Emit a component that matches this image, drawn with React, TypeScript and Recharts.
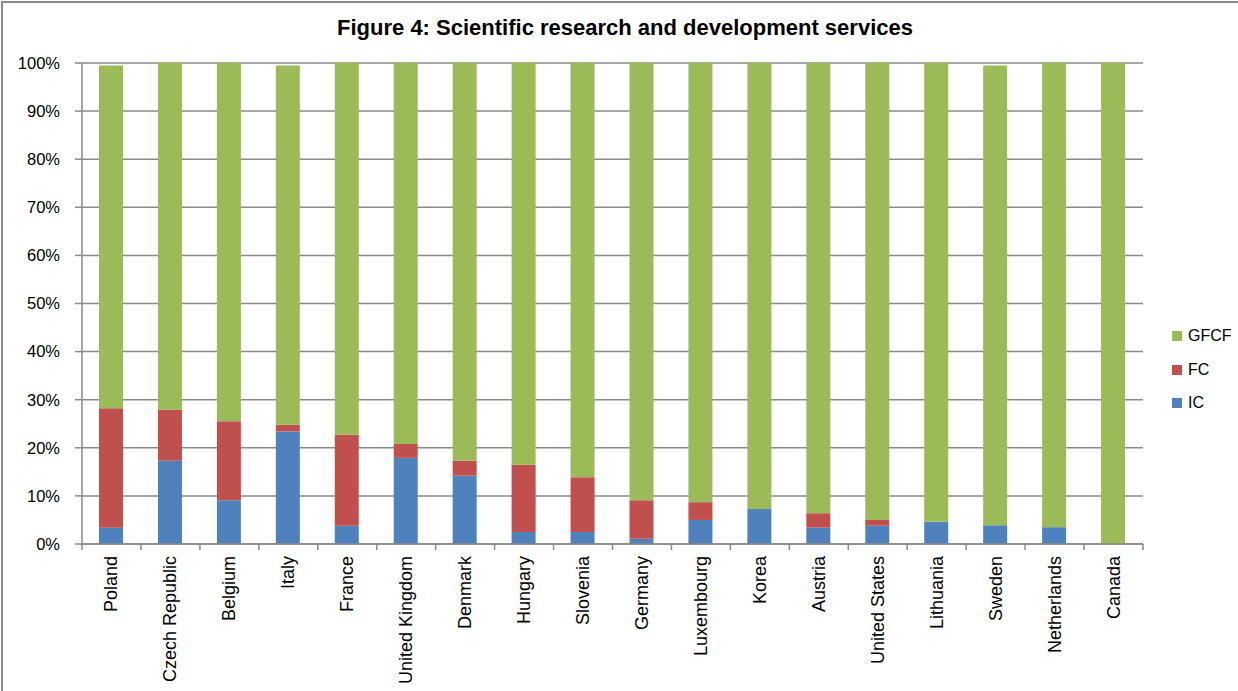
import React from "react";
import { BarChart, Bar, XAxis, YAxis, CartesianGrid } from "recharts";

const countries = [
  "Poland",
  "Czech Republic",
  "Belgium",
  "Italy",
  "France",
  "United Kingdom",
  "Denmark",
  "Hungary",
  "Slovenia",
  "Germany",
  "Luxembourg",
  "Korea",
  "Austria",
  "United States",
  "Lithuania",
  "Sweden",
  "Netherlands",
  "Canada",
];

const icValues = [3.4, 17.3, 9.1, 23.4, 3.8, 17.9, 14.2, 2.5, 2.5, 1.1, 5.0, 7.3, 3.4, 3.8, 4.6, 3.9, 3.5, 0];
const fcValues = [24.8, 10.6, 16.4, 1.4, 18.9, 2.9, 3.1, 14.0, 11.4, 8.0, 3.7, 0, 3.0, 1.2, 0, 0, 0, 0];
const gfcfValues = [71.3, 72.1, 74.5, 74.7, 77.3, 79.2, 82.7, 83.5, 86.1, 90.9, 91.3, 92.7, 93.6, 95.0, 95.4, 95.6, 96.5, 100];

const yTicks = [0, 10, 20, 30, 40, 50, 60, 70, 80, 90, 100];

const series = [
  { key: "IC", color: "#4F81BD" },
  { key: "FC", color: "#C0504D" },
  { key: "GFCF", color: "#9BBB59" },
];

const data = countries.map((name, i) => ({
  name,
  IC: icValues[i],
  FC: fcValues[i],
  GFCF: gfcfValues[i],
}));

const W = 1238;
const H = 691;
const margin = { top: 63, right: 95, bottom: 7, left: 8 };
const yAxisWidth = 74;
const plotWidth = W - margin.left - margin.right - yAxisWidth;
const step = plotWidth / countries.length;
const gridColor = "#8a8a8a";
const font = "'Liberation Sans', Arial, sans-serif";

const XTick = (props: any) => {
  const { x, y, payload, index } = props;
  return (
    <g transform={`translate(${x},${y})`}>
      {index === 0 && (
        <line x1={-step / 2} y1={0} x2={-step / 2} y2={6} stroke={gridColor} strokeWidth={1.5} />
      )}
      <line x1={step / 2} y1={0} x2={step / 2} y2={6} stroke={gridColor} strokeWidth={1.5} />
      <text
        x={0}
        y={0}
        dx={-12}
        dy={6}
        textAnchor="end"
        transform="rotate(-90)"
        fontSize={18}
        fontFamily={font}
        fill="#000"
      >
        {payload.value}
      </text>
    </g>
  );
};

const App = () => {
  const legendItems = [...series].reverse();
  return (
    <div style={{ position: "absolute", left: 0, top: 0, width: W, height: H, background: "#fff" }}>
      <div
        style={{
          position: "absolute",
          left: 1,
          top: 1,
          width: W,
          height: H,
          borderLeft: `2px solid ${gridColor}`,
          borderTop: `2px solid ${gridColor}`,
          boxSizing: "border-box",
        }}
      />
      <div
        style={{
          position: "absolute",
          left: 0,
          top: 15,
          width: 1250,
          textAlign: "center",
          fontFamily: font,
          fontWeight: "bold",
          fontSize: 22,
          color: "#000",
        }}
      >
        Figure 4: Scientific research and development services
      </div>
      <BarChart width={W} height={H} data={data} margin={margin}>
        <CartesianGrid vertical={false} stroke={gridColor} strokeWidth={1.5} />
        <XAxis
          dataKey="name"
          interval={0}
          height={140}
          tickLine={false}
          tickSize={0}
          tickMargin={0}
          tick={<XTick />}
          axisLine={{ stroke: gridColor, strokeWidth: 1.5 }}
        />
        <YAxis
          width={yAxisWidth}
          domain={[0, 100]}
          ticks={yTicks}
          tickFormatter={(v) => `${v}%`}
          tickSize={7}
          tickMargin={15}
          tickLine={{ stroke: gridColor, strokeWidth: 1.5 }}
          axisLine={{ stroke: gridColor, strokeWidth: 1.5 }}
          tick={{ fontSize: 16.5, fontFamily: font, fill: "#000" }}
        />
        {series.map((s) => (
          <Bar key={s.key} dataKey={s.key} stackId="a" fill={s.color} barSize={24} isAnimationActive={false} />
        ))}
      </BarChart>
      {legendItems.map((s, i) => (
        <div
          key={s.key}
          style={{
            position: "absolute",
            left: 1172,
            top: 326 + i * 33.5,
            display: "flex",
            alignItems: "center",
            fontFamily: font,
            fontSize: 16,
            color: "#000",
            height: 20,
          }}
        >
          <span style={{ display: "inline-block", width: 10, height: 10, background: s.color, marginRight: 6 }} />
          {s.key}
        </div>
      ))}
    </div>
  );
};

export default App;
